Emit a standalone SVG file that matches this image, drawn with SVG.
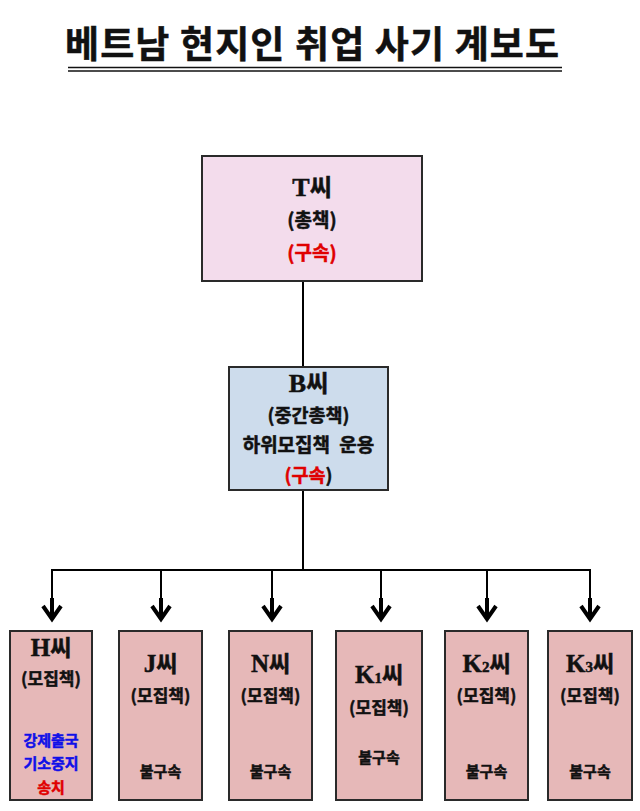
<svg xmlns="http://www.w3.org/2000/svg" xmlns:xlink="http://www.w3.org/1999/xlink" width="640" height="811" viewBox="0 0 640 811">
<style>
.k{font-family:"Noto Sans CJK KR","Noto Sans",sans-serif;font-weight:bold;fill:#111;stroke:#111;stroke-width:0.5;text-anchor:middle}
.s{font-family:"Liberation Serif","DejaVu Serif",serif;font-weight:bold}
.red{fill:#e00000;stroke:#e00000}
.blue{fill:#1010e8;stroke:#1010e8}
.box{stroke:#2a2a2a;stroke-width:2}
.sub{fill:#e6b8b8}
.line{stroke:#000;stroke-width:2;fill:none}
.ah{stroke:#000;stroke-width:4;fill:none;stroke-linejoin:miter}
</style>
<defs>
<g id="arr">
<line class="line" x1="0" y1="0" x2="0" y2="30"/>
<line class="ah" x1="0" y1="28" x2="0" y2="48"/>
<polyline class="ah" points="-9,36 0,49 9,36"/>
</g>
</defs>
<rect width="640" height="811" fill="#fff"/>
<g id="title">
<text class="k" x="312" y="58" font-size="37" font-weight="900" stroke-width="1.2" textLength="494" lengthAdjust="spacing">베트남 현지인 취업 사기 계보도</text>
<line x1="68" y1="67.5" x2="562" y2="67.5" stroke="#111" stroke-width="1.5"/>
<line x1="68" y1="71" x2="562" y2="71" stroke="#111" stroke-width="1.5"/>
</g>
<g id="connectors">
<line class="line" x1="303" y1="281" x2="303" y2="367"/>
<line class="line" x1="303" y1="490" x2="303" y2="570"/>
<polyline class="line" points="52,600 52,570 590,570 590,600"/>
<use xlink:href="#arr" x="52" y="570"/>
<use xlink:href="#arr" x="161" y="570"/>
<use xlink:href="#arr" x="272" y="570"/>
<use xlink:href="#arr" x="381" y="570"/>
<use xlink:href="#arr" x="487" y="570"/>
<use xlink:href="#arr" x="590" y="570"/>
</g>
<g id="node-T">
<rect class="box" x="202" y="156" width="220" height="125" fill="#f3dcec"/>
<text class="k" x="312" y="196" font-size="24"><tspan class="s" font-size="26">T</tspan>씨</text>
<text class="k" x="312" y="227" font-size="19">(총책)</text>
<text class="k red" x="312" y="260" font-size="19">(구속)</text>
</g>
<g id="node-B">
<rect class="box" x="229" y="367" width="159" height="123" fill="#cddcec"/>
<text class="k" x="308.5" y="392" font-size="24"><tspan class="s" font-size="26">B</tspan>씨</text>
<text class="k" x="308.5" y="422" font-size="18.5">(중간총책)</text>
<text class="k" x="308.5" y="452" font-size="19" word-spacing="5">하위모집책 운용</text>
<text class="k" x="308.5" y="482" font-size="18.5"><tspan class="red">(구속</tspan>)</text>
</g>
<g id="node-H">
<rect class="box sub" x="10" y="631" width="82" height="169"/>
<text class="k" x="51" y="656" font-size="23"><tspan class="s" font-size="25">H</tspan>씨</text>
<text class="k" x="51" y="685" font-size="17">(모집책)</text>
<text class="k blue" x="51" y="746" font-size="15">강제출국</text>
<text class="k blue" x="51" y="769" font-size="15">기소중지</text>
<text class="k red" x="51" y="793" font-size="15">송치</text>
</g>
<g id="node-J">
<rect class="box sub" x="119" y="631" width="83" height="169"/>
<text class="k" x="160.5" y="672" font-size="23"><tspan class="s" font-size="25">J</tspan>씨</text>
<text class="k" x="160.5" y="702" font-size="17">(모집책)</text>
<text class="k" x="160.5" y="777" font-size="15">불구속</text>
</g>
<g id="node-N">
<rect class="box sub" x="229" y="631" width="83" height="169"/>
<text class="k" x="270.5" y="672" font-size="23"><tspan class="s" font-size="25">N</tspan>씨</text>
<text class="k" x="270.5" y="702" font-size="17">(모집책)</text>
<text class="k" x="270.5" y="777" font-size="15">불구속</text>
</g>
<g id="node-K1">
<rect class="box sub" x="336" y="631" width="86" height="169"/>
<text class="k" x="379" y="683" font-size="23"><tspan class="s" font-size="25">K</tspan><tspan class="s" font-size="15">1</tspan>씨</text>
<text class="k" x="379" y="714" font-size="17">(모집책)</text>
<text class="k" x="379" y="763" font-size="15">불구속</text>
</g>
<g id="node-K2">
<rect class="box sub" x="445" y="631" width="83" height="169"/>
<text class="k" x="486.5" y="672" font-size="23"><tspan class="s" font-size="25">K</tspan><tspan class="s" font-size="15">2</tspan>씨</text>
<text class="k" x="486.5" y="702" font-size="17">(모집책)</text>
<text class="k" x="486.5" y="777" font-size="15">불구속</text>
</g>
<g id="node-K3">
<rect class="box sub" x="548" y="631" width="84" height="169"/>
<text class="k" x="590" y="672" font-size="23"><tspan class="s" font-size="25">K</tspan><tspan class="s" font-size="15">3</tspan>씨</text>
<text class="k" x="590" y="702" font-size="17">(모집책)</text>
<text class="k" x="590" y="777" font-size="15">불구속</text>
</g>
</svg>
